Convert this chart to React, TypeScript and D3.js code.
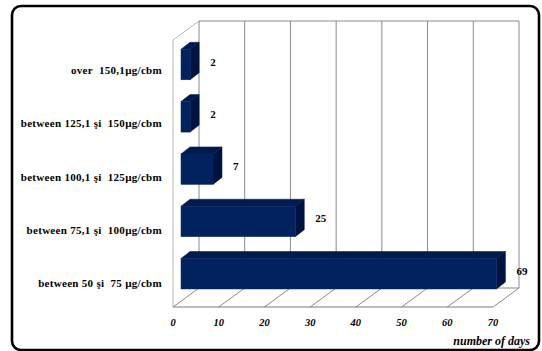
import React from "react";
import * as d3 from "d3";

const categories = [
  "over  150,1µg/cbm",
  "between 125,1 şi  150µg/cbm",
  "between 100,1 şi  125µg/cbm",
  "between 75,1 şi  100µg/cbm",
  "between 50 şi  75 µg/cbm",
];
const values = [2, 2, 7, 25, 69];
const xTicks = [0, 10, 20, 30, 40, 50, 60, 70];
const axisTitle = "number of days";

const W = 542;
const H = 351;
const FY_TOP = 40;
const FY_BOT = 307;
const DX = 26;
const DY = -19;
const BAR_DX = 9;
const BAR_DY = -7;
const BAR_SHIFT = 8;

const serif = "'Liberation Serif', 'Times New Roman', serif";

export default function App() {
  const xFront = d3.scaleLinear().domain([0, 70]).range([173, 493]);
  const yBar = d3
    .scaleBand<string>()
    .domain(categories)
    .range([38.4, 299.9])
    .paddingInner(0.417)
    .paddingOuter(0.2085);
  const yLabel = d3.scaleBand<string>().domain(categories).range([FY_TOP, FY_BOT]);

  const gridColor = "#8a8a8a";
  const wallColor = "#b8b8b8";
  const xb = (v: number) => xFront(v) + BAR_SHIFT;

  return (
    <svg
      width={W}
      height={H}
      style={{ position: "absolute", left: 0, top: 0, background: "#fff" }}
    >
      <rect x={12} y={6} width={527} height={344} rx={9} ry={9} fill="#fff" stroke="#000" strokeWidth={2.6} />

      {/* left wall */}
      <line x1={xFront(0)} y1={FY_TOP} x2={xFront(0)} y2={FY_BOT} stroke={wallColor} />
      <line x1={xFront(0)} y1={FY_TOP} x2={xFront(0) + DX} y2={FY_TOP + DY} stroke={wallColor} />

      {/* back wall */}
      <line x1={xFront(0) + DX} y1={FY_TOP + DY} x2={xFront(70) + DX} y2={FY_TOP + DY} stroke={gridColor} />
      <line x1={xFront(0) + DX} y1={FY_BOT + DY} x2={xFront(70) + DX} y2={FY_BOT + DY} stroke={gridColor} />
      {xTicks.map((t) => (
        <line key={"g" + t} x1={xFront(t) + DX} y1={FY_TOP + DY} x2={xFront(t) + DX} y2={FY_BOT + DY} stroke={gridColor} />
      ))}
      {/* floor */}
      {xTicks.map((t) => (
        <line key={"f" + t} x1={xFront(t)} y1={FY_BOT} x2={xFront(t) + DX} y2={FY_BOT + DY} stroke={gridColor} />
      ))}
      <line x1={xFront(0)} y1={FY_BOT} x2={xFront(70)} y2={FY_BOT} stroke="#7a7a7a" />

      {/* bars */}
      {categories.map((c, i) => {
        const v = values[i];
        const y0 = yBar(c)!;
        const h = yBar.bandwidth();
        const x0 = xb(0);
        const x1 = xb(v);
        const top = `M${x0},${y0} L${x0 + BAR_DX},${y0 + BAR_DY} L${x1 + BAR_DX},${y0 + BAR_DY} L${x1},${y0} Z`;
        const side = `M${x1},${y0} L${x1 + BAR_DX},${y0 + BAR_DY} L${x1 + BAR_DX},${y0 + h + BAR_DY} L${x1},${y0 + h} Z`;
        return (
          <g key={c}>
            <path d={top} fill="#011a4e" stroke="#011a4e" strokeWidth={0.5} />
            <path d={side} fill="#001340" stroke="#001340" strokeWidth={0.5} />
            <rect x={x0} y={y0} width={x1 - x0} height={h} fill="#02215f" stroke="#0b2a68" strokeWidth={0.5} />
            <text
              x={x1 + 20}
              y={y0 + h / 2 + 1}
              fontFamily={serif}
              fontWeight="bold"
              fontSize={11}
              fill="#000"
            >
              {v}
            </text>
          </g>
        );
      })}

      {/* category labels */}
      {categories.map((c) => (
        <text
          key={"l" + c}
          x={162}
          y={yLabel(c)! + yLabel.bandwidth() / 2 + 7}
          textAnchor="end"
          fontFamily={serif}
          fontWeight="bold"
          fontSize={11}
          letterSpacing={0.3}
          fill="#000"
          style={{ whiteSpace: "pre" }}
        >
          {c}
        </text>
      ))}

      {/* x tick labels */}
      {xTicks.map((t) => (
        <text
          key={"t" + t}
          x={xFront(t)}
          y={326}
          textAnchor="middle"
          fontFamily={serif}
          fontWeight="bold"
          fontStyle="italic"
          fontSize={10.5}
          fill="#000"
        >
          {t}
        </text>
      ))}

      <text
        x={530}
        y={345}
        textAnchor="end"
        fontFamily={serif}
        fontWeight="bold"
        fontStyle="italic"
        fontSize={12}
        fill="#000"
      >
        {axisTitle}
      </text>
    </svg>
  );
}
